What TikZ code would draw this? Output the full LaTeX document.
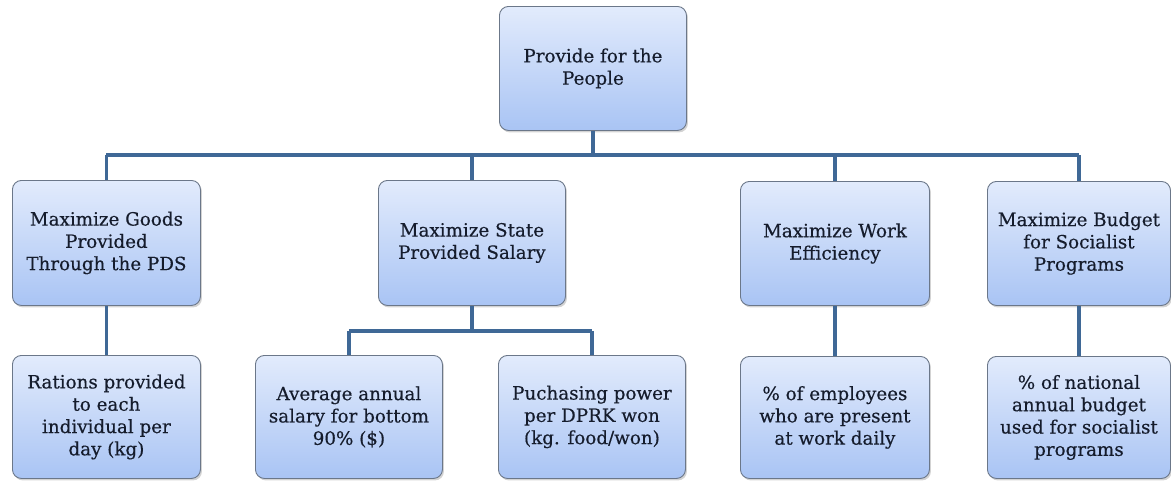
\documentclass[tikz,border=0pt]{standalone}
\usepackage{fontspec}
\newfontfamily\boxfont{DejaVu Serif}[FakeBold=0.4]
\usetikzlibrary{shadows}
\definecolor{boxtop}{HTML}{E2EBFC}
\definecolor{boxbot}{HTML}{A9C4F4}
\definecolor{boxline}{HTML}{6B7789}
\definecolor{conn}{HTML}{3F6896}
\definecolor{txt}{HTML}{151C2C}
\tikzset{
  mbox/.style={draw=boxline, line width=0.9pt, rounded corners=9pt,
    top color=boxtop, bottom color=boxbot,
    drop shadow={shadow xshift=1.5pt, shadow yshift=-2pt, opacity=0.35, fill=gray},
    text=txt, align=center, font=\boxfont\fontsize{18.3}{22.3}\selectfont,
    inner sep=0pt, anchor=north west},
  conn/.style={draw=conn, line width=3.6pt}
}
\begin{document}
\begin{tikzpicture}[x=1pt,y=-1pt]
\useasboundingbox (0,0) rectangle (1171,482);
% top
\node[mbox, minimum width=187pt, minimum height=124pt] (top) at (499,6) {Provide for the\\People};
% level 2
\node[mbox, minimum width=188pt, minimum height=125pt] (goods) at (12,180) {Maximize Goods\\Provided\\Through the PDS};
\node[mbox, minimum width=187pt, minimum height=125pt] (salary) at (378,180) {Maximize State\\Provided Salary};
\node[mbox, minimum width=189pt, minimum height=124pt] (work) at (740,181) {Maximize Work\\Efficiency};
\node[mbox, minimum width=183pt, minimum height=124pt] (budget) at (987,181) {Maximize Budget\\for Socialist\\Programs};
% level 3
\node[mbox, minimum width=188pt, minimum height=123pt] (rations) at (12,355) {Rations provided\\to each\\individual per\\day (kg)};
\node[mbox, minimum width=187pt, minimum height=123pt] (avg) at (255,355) {Average annual\\salary for bottom\\90\% (\$)};
\node[mbox, minimum width=187pt, minimum height=123pt] (power) at (498,355) {Puchasing power\\per DPRK won\\(kg. food/won)};
\node[mbox, minimum width=189pt, minimum height=122pt] (emp) at (740,356) {\% of employees\\who are present\\at work daily};
\node[mbox, minimum width=183pt, minimum height=122pt] (nat) at (987,356) {\% of national\\annual budget\\used for socialist\\programs};
% connectors
\coordinate (bar) at (top.south |- 0,155);
\coordinate (sbar) at (salary.south |- 0,331);
\draw[conn] (top.south) -- (bar);
\draw[conn] (goods.north |- bar) -- (budget.north |- bar);
\draw[conn] (goods.north |- bar) -- (goods.north);
\draw[conn] (salary.north |- bar) -- (salary.north);
\draw[conn] (work.north |- bar) -- (work.north);
\draw[conn] (budget.north |- bar) -- (budget.north);
\draw[conn] (goods.south) -- (rations.north);
\draw[conn] (salary.south) -- (sbar);
\draw[conn] (avg.north |- sbar) -- (power.north |- sbar);
\draw[conn] (avg.north |- sbar) -- (avg.north);
\draw[conn] (power.north |- sbar) -- (power.north);
\draw[conn] (work.south) -- (emp.north);
\draw[conn] (budget.south) -- (nat.north);
\end{tikzpicture}
\end{document}
